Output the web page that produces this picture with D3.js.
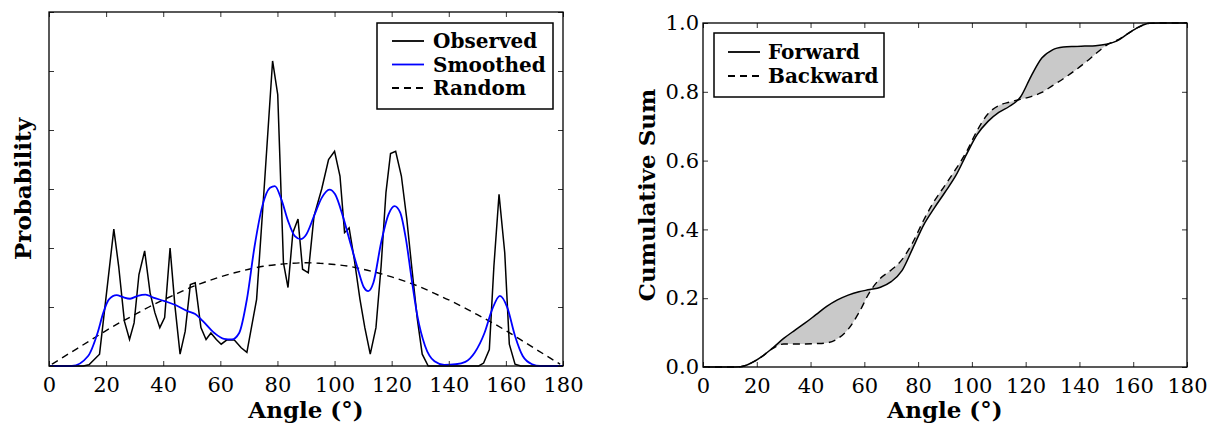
<!DOCTYPE html>
<html>
<head>
<meta charset="utf-8">
<script src="https://cdn.jsdelivr.net/npm/d3@7"></script>
<style>
  body { margin: 0; background: #fff; }
  .tick text { font-family: "DejaVu Serif", serif; font-size: 21px; fill: #000; }
  .tick line { stroke: #333; stroke-width: 1; }
  .title { font-family: "DejaVu Serif", serif; font-weight: bold; font-size: 23px; }
  .legText { font-family: "DejaVu Serif", serif; font-weight: bold; font-size: 20px; }
</style>
</head>
<body>
<script>
var w = 1211;
var h = 425;

// left panel: angle distribution
var xTicks = [0, 20, 40, 60, 80, 100, 120, 140, 160, 180];
var probTicks = [0, 0.01, 0.02, 0.03, 0.04, 0.05, 0.06];

var obsAngle = [0, 12, 14, 17.7, 22.7, 24.4, 26.4, 28.2, 29.8, 31.5, 33.5, 35.4, 37.1, 38.8, 40.5, 42.4, 44.1, 45.9, 47.7, 49.5,
  51.2, 53.2, 55.0, 56.7, 58.6, 60.3, 62.2, 64.9, 67.3, 69.3, 72.7, 75.4, 78.3, 80.1, 82.1, 83.7, 85.4, 87.2, 88.8, 90.8,
  92.8, 95.5, 97.9, 100.0, 101.9, 103.5, 105.1, 106.9, 108.9, 110.6, 112.5, 114.5, 116.3, 118.0, 119.6, 121.4, 123.4, 125.3, 127.0, 129.0,
  130.7, 132.8, 150.5, 152.2, 154.2, 155.8, 157.6, 159.6, 161.2, 163.2, 165.2, 180];
var obsValue = [0, 0, 0.0002, 0.002, 0.0232, 0.0169, 0.0076, 0.0045, 0.0073, 0.0155, 0.0195, 0.0124, 0.0090, 0.0065, 0.0082, 0.0200, 0.0102, 0.0020, 0.0059, 0.0138,
  0.0141, 0.0065, 0.0045, 0.0056, 0.0045, 0.0037, 0.0044, 0.0044, 0.0031, 0.0023, 0.0113, 0.0305, 0.0517, 0.0460, 0.0175, 0.0133, 0.0226, 0.0249, 0.0164, 0.0158,
  0.0254, 0.0300, 0.0350, 0.0364, 0.0322, 0.0226, 0.0234, 0.0181, 0.0113, 0.0065, 0.0020, 0.0065, 0.0169, 0.0294, 0.0360, 0.0364, 0.0322, 0.0249, 0.0169, 0.0079,
  0.0020, 0, 0, 0.0005, 0.0028, 0.0169, 0.0291, 0.0192, 0.0037, 0.0003, 0, 0];

var smAngle = [0, 8, 13.7, 17, 19, 21, 23.7, 25.7, 28.4, 31.1, 33.8, 36.5, 40.5, 44.5, 48.5, 51.2, 53.9, 57.9, 61.3, 64,
  66.6, 69.3, 72, 74.7, 77.4, 79.1, 81.4, 83.7, 86.1, 88.1, 90.1, 92.8, 95.5, 98.2, 100.2, 102.9, 105.5, 108.2, 110.2, 111.8,
  113.6, 116.3, 118.9, 121, 123, 125, 127, 129, 131.7, 135, 138.4, 142.4, 145.8, 149.1, 152.5, 155.2, 157.9, 160.5, 163.2, 165.9,
  169.2, 172, 180];
var smValue = [0, 0, 0.0017, 0.0056, 0.009, 0.0113, 0.0120, 0.0117, 0.0114, 0.0119, 0.0121, 0.0116, 0.0110, 0.0103, 0.0093, 0.0088, 0.0076, 0.0056, 0.0046, 0.0045,
  0.0056, 0.0113, 0.0203, 0.0271, 0.0302, 0.0305, 0.0282, 0.0246, 0.0220, 0.0215, 0.0223, 0.0254, 0.0285, 0.0299, 0.0291, 0.0254, 0.0209, 0.0164, 0.0134, 0.0127,
  0.0141, 0.0209, 0.0257, 0.0271, 0.0260, 0.0215, 0.0147, 0.0085, 0.0034, 0.0008, 0.0002, 0.0003, 0.0007, 0.0023, 0.0056, 0.0096, 0.0119, 0.0099, 0.0051, 0.0017,
  0.0003, 0, 0];

var rndAngle = [1, 5, 10, 15, 20, 25, 30, 35, 40, 45, 50, 55, 60, 65, 70, 75, 80, 85, 90,
  95, 100, 105, 110, 115, 120, 125, 130, 135, 140, 145, 150, 155, 160, 165, 170, 175, 179];
var rndValue = [0.0003, 0.0015, 0.0030, 0.0045, 0.0060, 0.0074, 0.0087, 0.0100, 0.0112, 0.0123, 0.0134, 0.0143, 0.0151, 0.0158, 0.0164, 0.0169, 0.0172, 0.0174, 0.0175,
  0.0174, 0.0172, 0.0169, 0.0164, 0.0158, 0.0151, 0.0143, 0.0134, 0.0123, 0.0112, 0.0100, 0.0087, 0.0074, 0.0060, 0.0045, 0.0030, 0.0015, 0.0003];

// right panel: cumulative sums
var cumTicks = [0, 0.2, 0.4, 0.6, 0.8, 1.0];
var cumAngle = [0, 5, 10, 14, 18, 22, 26, 30, 34, 38, 42, 46, 50, 54, 58, 62, 66, 70, 74, 78,
  82, 86, 90, 94, 98, 102, 106, 110, 114, 118, 122, 126, 130, 134, 138, 142, 146, 150, 154, 158,
  162, 166, 170, 175, 180];
var forward = [0, 0, 0, 0.001, 0.012, 0.031, 0.056, 0.083, 0.106, 0.128, 0.152, 0.176, 0.195, 0.209, 0.219, 0.225, 0.232, 0.248, 0.280, 0.345,
  0.412, 0.462, 0.508, 0.556, 0.618, 0.676, 0.714, 0.740, 0.758, 0.784, 0.845, 0.898, 0.922, 0.930, 0.932, 0.933, 0.934, 0.938, 0.948, 0.969,
  0.988, 0.999, 1, 1, 1];
var backward = [0, 0, 0, 0.001, 0.012, 0.031, 0.054, 0.067, 0.067, 0.067, 0.068, 0.070, 0.082, 0.110, 0.158, 0.218, 0.258, 0.282, 0.312, 0.362,
  0.426, 0.482, 0.528, 0.575, 0.626, 0.688, 0.736, 0.760, 0.770, 0.778, 0.786, 0.798, 0.818, 0.838, 0.860, 0.884, 0.910, 0.935, 0.950, 0.969,
  0.988, 0.999, 1, 1, 1];

var svg = d3.select("body")
            .append("svg")
            .attr("width", w)
            .attr("height", h);

function pairs(xs, ys) {
  return xs.map(function(d, i) { return {x: d, y: ys[i]}; });
}

// inward ticks on all four sides, then the frame
function frame(g, xScale, yScale, yTicks, yLabels) {
  var x0 = xScale.range()[0], x1 = xScale.range()[1];
  var y0 = yScale.range()[0], y1 = yScale.range()[1];

  g.append("g")
   .attr("transform", "translate(0," + y0 + ")")
   .call(d3.axisBottom(xScale).tickValues(xTicks).tickSizeInner(-5).tickSizeOuter(0).tickPadding(11));
  g.append("g")
   .attr("transform", "translate(0," + y1 + ")")
   .call(d3.axisTop(xScale).tickValues(xTicks).tickSizeInner(-5).tickSizeOuter(0).tickFormat(""));

  var yAxis = d3.axisLeft(yScale).tickValues(yTicks).tickSizeInner(-5).tickSizeOuter(0).tickPadding(4);
  if (yLabels) {
    yAxis.tickFormat(d3.format(".1f"));
  } else {
    yAxis.tickFormat("");
  }
  g.append("g")
   .attr("transform", "translate(" + x0 + ",0)")
   .call(yAxis);
  g.append("g")
   .attr("transform", "translate(" + x1 + ",0)")
   .call(d3.axisRight(yScale).tickValues(yTicks).tickSizeInner(-5).tickSizeOuter(0).tickFormat(""));

  g.selectAll(".domain").remove();

  g.append("rect")
   .attr("x", x0)
   .attr("y", y1)
   .attr("width", x1 - x0)
   .attr("height", y0 - y1)
   .attr("fill", "none")
   .attr("stroke", "#000")
   .attr("stroke-width", 1.3);
}

// ---- left panel ----
var xL = d3.scaleLinear().domain([0, 180]).range([49, 563]);
var yL = d3.scaleLinear().domain([0, 0.06]).range([366, 12]);

var left = svg.append("g");

var lineL = d3.line()
              .x(function(d) { return xL(d.x); })
              .y(function(d) { return yL(d.y); });

left.append("path")
    .datum(pairs(rndAngle, rndValue))
    .attr("d", lineL.curve(d3.curveMonotoneX))
    .attr("fill", "none")
    .attr("stroke", "#000")
    .attr("stroke-width", 1.4)
    .attr("stroke-dasharray", "7,5");

left.append("path")
    .datum(pairs(obsAngle, obsValue))
    .attr("d", lineL.curve(d3.curveLinear))
    .attr("fill", "none")
    .attr("stroke", "#000")
    .attr("stroke-width", 1.5);

left.append("path")
    .datum(pairs(smAngle, smValue))
    .attr("d", lineL.curve(d3.curveMonotoneX))
    .attr("fill", "none")
    .attr("stroke", "#0000ff")
    .attr("stroke-width", 1.8);

frame(left, xL, yL, probTicks, false);

left.append("text")
    .attr("class", "title")
    .attr("x", (49 + 563) / 2)
    .attr("y", 418)
    .attr("text-anchor", "middle")
    .text("Angle (°)");

left.append("text")
    .attr("class", "title")
    .attr("transform", "translate(31," + ((12 + 366) / 2) + ") rotate(-90)")
    .attr("text-anchor", "middle")
    .text("Probability");

// legend
var legL = left.append("g");
legL.append("rect")
    .attr("x", 377).attr("y", 23).attr("width", 176).attr("height", 86)
    .attr("fill", "#fff").attr("stroke", "#000").attr("stroke-width", 1.5);
var legItemsL = [
  {name: "Observed", color: "#000", dash: null},
  {name: "Smoothed", color: "#0000ff", dash: null},
  {name: "Random", color: "#000", dash: "7,5"}
];
legItemsL.forEach(function(d, i) {
  var y = 41 + i * 23.5;
  legL.append("line")
      .attr("x1", 392).attr("x2", 424).attr("y1", y).attr("y2", y)
      .attr("stroke", d.color).attr("stroke-width", 1.8)
      .attr("stroke-dasharray", d.dash);
  legL.append("text")
      .attr("class", "legText")
      .attr("x", 433).attr("y", y + 7)
      .text(d.name);
});

// ---- right panel ----
var xR = d3.scaleLinear().domain([0, 180]).range([703, 1187]);
var yR = d3.scaleLinear().domain([0, 1]).range([367, 23]);

var right = svg.append("g");

var cumData = cumAngle.map(function(d, i) { return {x: d, f: forward[i], b: backward[i]}; });

right.append("path")
     .datum(cumData)
     .attr("d", d3.area()
                  .x(function(d) { return xR(d.x); })
                  .y0(function(d) { return yR(d.b); })
                  .y1(function(d) { return yR(d.f); })
                  .curve(d3.curveMonotoneX))
     .attr("fill", "#c9c9c9")
     .attr("stroke", "none");

right.append("path")
     .datum(cumData)
     .attr("d", d3.line()
                  .x(function(d) { return xR(d.x); })
                  .y(function(d) { return yR(d.b); })
                  .curve(d3.curveMonotoneX))
     .attr("fill", "none")
     .attr("stroke", "#000")
     .attr("stroke-width", 1.4)
     .attr("stroke-dasharray", "7,5");

right.append("path")
     .datum(cumData)
     .attr("d", d3.line()
                  .x(function(d) { return xR(d.x); })
                  .y(function(d) { return yR(d.f); })
                  .curve(d3.curveMonotoneX))
     .attr("fill", "none")
     .attr("stroke", "#000")
     .attr("stroke-width", 1.5);

frame(right, xR, yR, cumTicks, true);

right.append("text")
     .attr("class", "title")
     .attr("x", (703 + 1187) / 2)
     .attr("y", 418)
     .attr("text-anchor", "middle")
     .text("Angle (°)");

right.append("text")
     .attr("class", "title")
     .attr("transform", "translate(655," + ((23 + 367) / 2) + ") rotate(-90)")
     .attr("text-anchor", "middle")
     .text("Cumulative Sum");

var legR = right.append("g");
legR.append("rect")
    .attr("x", 714).attr("y", 33).attr("width", 170).attr("height", 64)
    .attr("fill", "#fff").attr("stroke", "#000").attr("stroke-width", 1.5);
var legItemsR = [
  {name: "Forward", dash: null},
  {name: "Backward", dash: "7,5"}
];
legItemsR.forEach(function(d, i) {
  var y = 52 + i * 24;
  legR.append("line")
      .attr("x1", 728).attr("x2", 760).attr("y1", y).attr("y2", y)
      .attr("stroke", "#000").attr("stroke-width", 1.8)
      .attr("stroke-dasharray", d.dash);
  legR.append("text")
      .attr("class", "legText")
      .attr("x", 768).attr("y", y + 7)
      .text(d.name);
});
</script>
</body>
</html>
